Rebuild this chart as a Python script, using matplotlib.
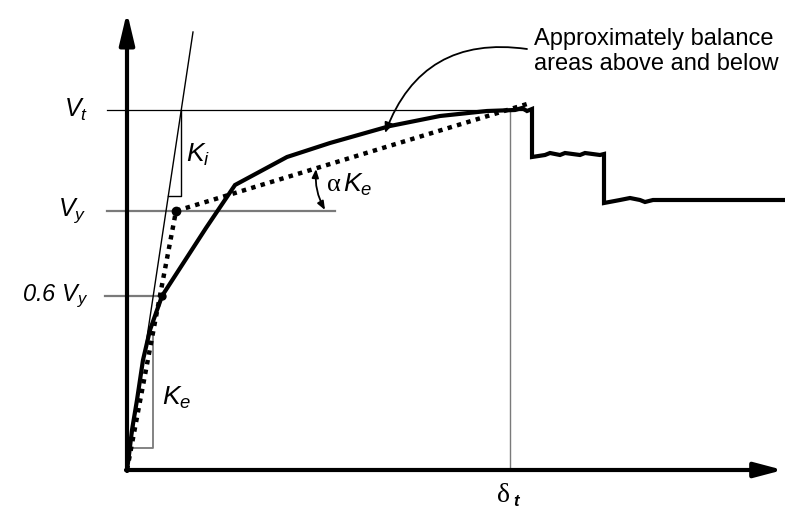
import matplotlib
matplotlib.use("Agg")
import matplotlib.pyplot as plt

plt.rcParams['font.family'] = ['Liberation Sans', 'DejaVu Sans']
plt.rcParams['mathtext.fontset'] = 'custom'
plt.rcParams['mathtext.rm'] = 'Liberation Sans:italic'
plt.rcParams['mathtext.it'] = 'Liberation Sans:italic'

# schematic units: displacement (x) and base shear (y)
Vt = 360
Vy = 259
V06 = 174
delta_t = 383
x_end = 656
y_top = 458

# pushover curve (thick solid)
curve_x = [0, 2, 5, 10, 16, 23, 35, 57, 79, 108, 160, 203, 263, 313, 360, 388,
           395, 400, 405, 405, 418, 423, 433, 438, 453, 458, 473, 477, 477,
           493, 503, 513, 518, 526, 656]
curve_y = [0, 15, 40, 70, 110, 140, 174, 208, 242, 285, 313, 327, 344, 354, 359, 360,
           362, 359, 361, 313, 315, 317, 315, 317, 315, 317, 315, 316, 267,
           270, 272, 270, 268, 270, 270]

# idealized bilinear curve (dotted)
bil_x = [0, 49, 400]
bil_y = [0, 259, 366]

# initial stiffness line Ki
ki_x = [0, 66]
ki_y = [0, 438]
ki_tri_y = [274, 360]
ke_tri_y = [22, 137]


def ki_at(y):
    return ki_x[1] * y / ki_y[1]


def ke_at(y):
    return bil_x[1] * y / bil_y[1]


fig = plt.figure(figsize=(7.85, 5.11), dpi=100)
ax = fig.add_axes([0, 0, 1, 1])
ax.set_xlim(-127, 658)
ax.set_ylim(-41, 470)
ax.axis('off')

gray = '#7a7a7a'
# reference lines
ax.plot([-20, 400], [Vt, Vt], color='black', lw=0.9)
ax.plot([-20, 208], [Vy, Vy], color=gray, lw=1.6)
ax.plot([-22, 35], [V06, V06], color=gray, lw=1.6)
ax.plot([delta_t, delta_t], [0, Vt], color=gray, lw=1.0)

# Ki line and triangle
ax.plot(ki_x, ki_y, color='black', lw=1.0)
ax.plot([ki_at(ki_tri_y[0]), ki_at(ki_tri_y[1]), ki_at(ki_tri_y[1])],
        [ki_tri_y[0], ki_tri_y[0], ki_tri_y[1]], color='black', lw=1.0)
# Ke triangle
ax.plot([ke_at(ke_tri_y[0]), ke_at(ke_tri_y[1]), ke_at(ke_tri_y[1])],
        [ke_tri_y[0], ke_tri_y[0], ke_tri_y[1]], color=gray, lw=1.3)

# curves
ax.plot(curve_x, curve_y, color='black', lw=3.0, solid_joinstyle='miter')
ax.plot(bil_x, bil_y, color='black', lw=3.2, linestyle=(0, (1, 1.2)))
ax.plot([bil_x[1]], [bil_y[1]], 'o', color='black', ms=6)
ax.plot([35], [V06], 'o', color='black', ms=5)

# axes with arrows
ax.annotate('', xy=(0, y_top), xytext=(0, -1),
            arrowprops=dict(arrowstyle='-|>,head_length=1.9,head_width=0.45',
                            lw=3, color='black', shrinkA=0, shrinkB=0))
ax.annotate('', xy=(x_end, 0), xytext=(-1, 0),
            arrowprops=dict(arrowstyle='-|>,head_length=1.7,head_width=0.45',
                            lw=3, color='black', shrinkA=0, shrinkB=0))

# labels
ax.text(-39, Vt, r'$V_t$', fontsize=18, ha='right', va='center')
ax.text(-41, Vy, r'$V_y$', fontsize=18, ha='right', va='center')
ax.text(-39, V06, r'$0.6\ V_y$', fontsize=17, ha='right', va='center')
ax.text(59, 315, r'$K_i$', fontsize=19, ha='left', va='center')
ax.text(35, 72, r'$K_e$', fontsize=19, ha='left', va='center')
ax.text(200, 285, 'α', fontsize=19, family='Liberation Serif', ha='left', va='center')
ax.text(216, 285, r'$K_e$', fontsize=19, ha='left', va='center')
ax.text(377, -25, 'δ', fontsize=20, family='Liberation Serif', ha='center', va='center')
ax.text(386, -31, 't', fontsize=12, fontweight='bold', style='italic', ha='left', va='center')

ax.text(407, 442, 'Approximately balance\nareas above and below',
        fontsize=17, ha='left', va='top', linespacing=1.17)
ax.annotate('', xy=(258, 337), xytext=(400, 421),
            arrowprops=dict(arrowstyle='-|>,head_length=0.6,head_width=0.25',
                            connectionstyle='arc3,rad=0.4', lw=1.3, color='black',
                            shrinkA=0, shrinkB=0))
ax.annotate('', xy=(198, 260), xytext=(189, 301),
            arrowprops=dict(arrowstyle='<|-|>,head_length=0.5,head_width=0.2',
                            connectionstyle='arc3,rad=0.15', lw=1.3, color='black',
                            shrinkA=0, shrinkB=0))

fig.savefig('out.png', dpi=100)
